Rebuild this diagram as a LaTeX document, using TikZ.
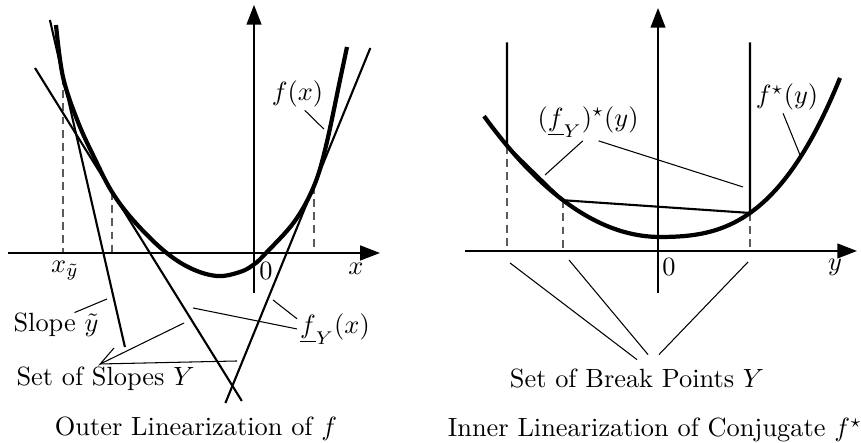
\documentclass[tikz,border=0pt]{standalone}
\usepackage{amsmath}
\usepackage{amssymb}
\usetikzlibrary{arrows.meta,calc}
\definecolor{grau}{HTML}{5A5A5A}
\tikzset{
  ax/.style={-{Triangle[length=7.5pt,width=5.6pt]},line width=0.75pt},
  kurve/.style={line width=1.6pt},
  tang/.style={line width=0.8pt},
  hilf/.style={grau,dash pattern=on 3pt off 2pt,line width=0.45pt},
  zeig/.style={line width=0.4pt},
  lab/.style={inner sep=1pt},
}
\begin{document}
\begin{tikzpicture}[x=0.4cm,y=0.4cm]
  \useasboundingbox (-8.467,-6.333) rectangle (20.233,8.433);
  \coordinate (t1) at (-6.367,5.867);
  \coordinate (t2) at (-4.733,2.033);
  \coordinate (t3) at (2.0,2.235);
  \draw[hilf] (t1) -- (t1 |- 0,0);
  \draw[hilf] (t2) -- (t2 |- 0,0);
  \draw[hilf] (t3) -- (t3 |- 0,0);
  \draw[ax] (-8.2,0) -- (4.2,0);
  \draw[ax] (0,-1.33) -- (0,8.27);
  \draw[kurve] plot[smooth,tension=0.6] coordinates {(-6.6,7.6) (t1) (-5.867,4.367) (-5.3,3.13) (t2) (-4.033,1.1) (-3.033,0.1) (-2.133,-0.5) (-1.233,-0.767) (-0.467,-0.633) (0,-0.38) (0.4,0) (1.35,1.05) (t3) (2.4,3.57) (2.867,5.767) (3.1,6.867)};
  \draw[tang] (-6.803,7.767) -- (t1) -- (-4.303,-3.133);
  \draw[tang] (-7.3,6.167) -- (t2) -- (-0.406,-4.933);
  \draw[tang] (3.877,6.833) -- (t3) -- (-0.953,-5.0);
  \node[lab] (xt) at (-6.3,-0.6) {$x_{\tilde y}$};
  \node[lab] (n1) at (0.4,-0.6) {$0$};
  \node[lab] (xl) at (3.4,-0.533) {$x$};
  \node[lab] (fx) at (1.45,5.3) {$f(x)$};
  \node[lab] (slope) at (-6.6,-2.4) {Slope $\tilde y$};
  \node[lab] (fY) at (2.7,-2.533) {$\underline{f}_Y(x)$};
  \node[lab] (sl) at (-4.95,-4.2) {Set of Slopes $Y$};
  \node[lab,anchor=base] (tl) at (-1.933,-6.1) {Outer Linearization of $f$};
  \coordinate (a1) at (2.33,4.13);
  \coordinate (a2) at (-4.9,-1.533);
  \coordinate (a3) at (0.633,-1.567);
  \coordinate (a4) at (-2.033,-1.833);
  \coordinate (s1) at (-4.667,-3.167);
  \coordinate (s2) at (-2.333,-2.333);
  \coordinate (s3) at (-0.567,-3.6);
  \draw[zeig] (fx.-66) -- (a1);
  \draw[zeig] ([xshift=7pt,yshift=-1pt]slope.north) -- (a2);
  \draw[zeig] (fY.165) -- (a3);
  \draw[zeig] (fY.west) -- (a4);
  \draw[zeig] (s1) -- ([xshift=-2pt]sl.north) -- (s2);
  \draw[zeig] ([xshift=-2pt]sl.north) -- (s3);
  \begin{scope}[shift={(13.467,0.067)}]
    \coordinate (b1) at (-5.033,3.51);
    \coordinate (b2) at (-3.167,1.692);
    \coordinate (b3) at (3.067,1.267);
    \draw[hilf] (b1) -- (b1 |- 0,0);
    \draw[hilf] (b2) -- (b2 |- 0,0);
    \draw[hilf] (b3) -- (b3 |- 0,0);
    \draw[ax] (-6.433,0) -- (6.633,0);
    \draw[ax] (0,-1.4) -- (0,8.1);
    \draw[kurve] plot[domain=-5.867:0,samples=40] ({\x+0.067},{0.467+0.117*\x*\x})
      -- plot[domain=0:6,samples=40] ({\x+0.067},{0.467+0.0306*\x*\x+0.01944*\x*\x*\x});
    \draw[tang] (b1 |- 0,6.95) -- (b1) -- (b2) -- (b3) -- (b3 |- 0,6.95);
    \node[lab] (fYs) at (-2.333,4.3) {$(\underline{f}_Y)^\star(y)$};
    \node[lab] (fs) at (4.3,5.133) {$f^\star(y)$};
    \node[lab] (n2) at (0.367,-0.533) {$0$};
    \node[lab] (yl) at (5.9,-0.533) {$y$};
    \node[lab] (bp) at (-0.7,-4.267) {Set of Break Points $Y$};
    \node[lab,anchor=base] (tr) at (-0.1,-6.2) {Inner Linearization of Conjugate $f^\star$};
    \coordinate (p1) at (-3.767,2.533);
    \coordinate (p2) at (2.833,2.133);
    \coordinate (p3) at (4.733,3.2);
    \coordinate (q1) at (-4.933,-0.4);
    \coordinate (q2) at (-2.967,-0.3);
    \coordinate (q3) at (3.0,-0.367);
    \draw[zeig] ([xshift=-2pt]fYs.south) -- (p1);
    \draw[zeig] ([xshift=4pt]fYs.south) -- (p2);
    \draw[zeig] ([xshift=-1.5pt]fs.south) -- (p3);
    \draw[zeig] (q1) -- ([yshift=2.5pt]bp.north);
    \draw[zeig] (q2) -- ([xshift=4.2pt,yshift=4.4pt]bp.north);
    \draw[zeig] (q3) -- ([xshift=8.3pt,yshift=4.4pt]bp.north);
  \end{scope}
\end{tikzpicture}
\end{document}
